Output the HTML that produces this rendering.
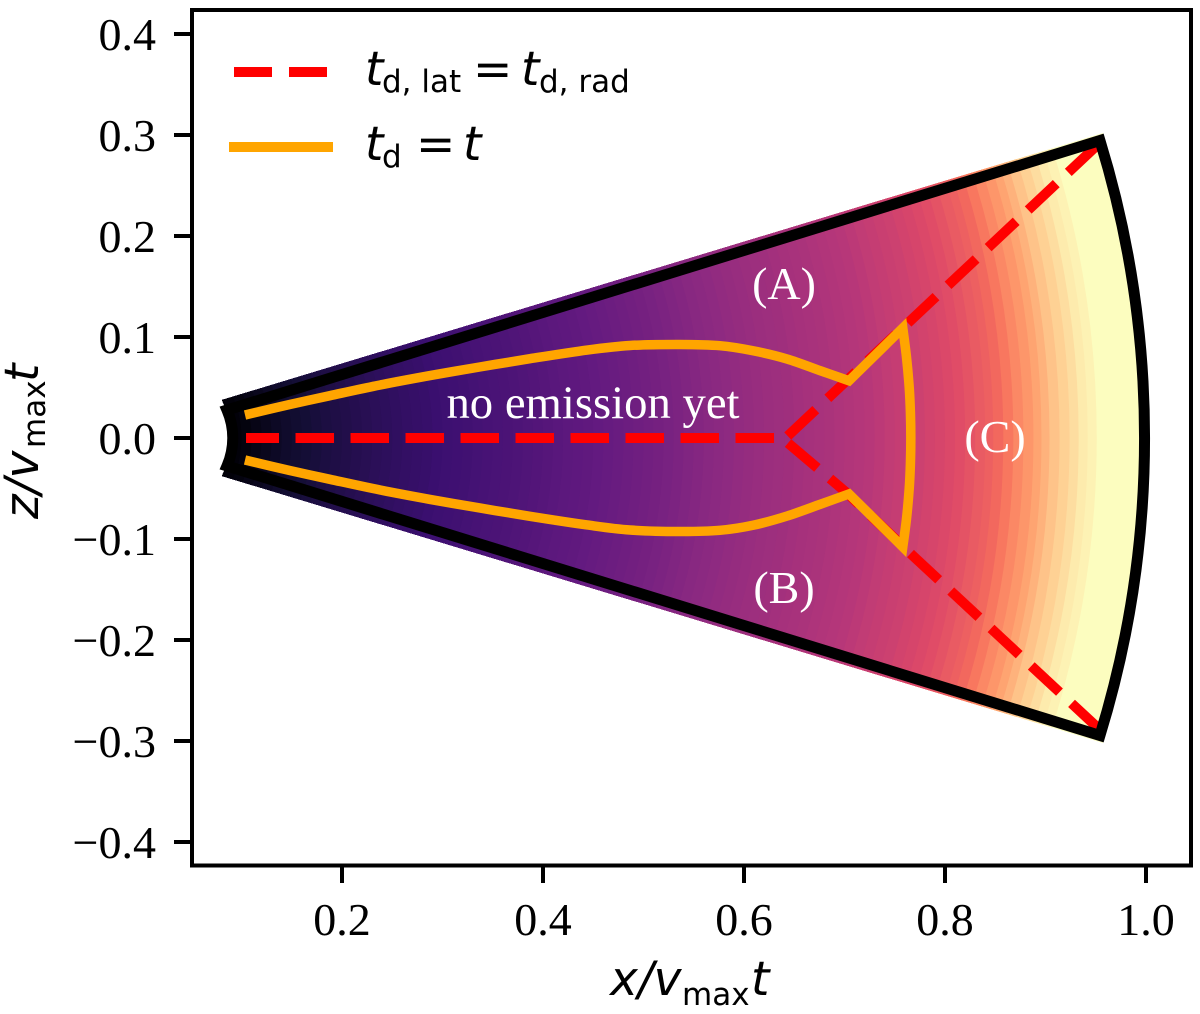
<!DOCTYPE html>
<html lang="en">
<head>
<meta charset="utf-8">
<title>Ejecta emission regions</title>
<style>
  html, body { margin: 0; padding: 0; background: #fff; width: 1200px; height: 1014px; overflow: hidden; }
  svg { display: block; overflow: hidden; }
  .tick-label { font-family: "Liberation Serif", serif; font-size: 46px; fill: #000; }
  .region-label { font-family: "Liberation Serif", serif; font-size: 46px; fill: #fff; text-anchor: middle; }
  .math { font-family: "DejaVu Sans", sans-serif; font-size: 47px; fill: #000; font-style: italic; }
  .math .sub { font-size: 31px; font-style: normal; }
  .math .eq { font-style: normal; }
</style>
</head>
<body>
<svg id="chart" width="1200" height="1014" viewBox="0 0 1200 1014" xmlns="http://www.w3.org/2000/svg">
  <defs><clipPath id="wedge-clip"><path id="wedge-clip-path"></path></clipPath></defs>
  <g id="bands" clip-path="url(#wedge-clip)"></g>
  <g id="red-lines"></g>
  <path id="wedge-outline" fill="none" stroke="#000" stroke-width="11" stroke-linejoin="miter" stroke-miterlimit="10"></path>
  <g id="orange-lines"></g>

  <text class="region-label" style="font-size:46.7px" x="593" y="418">no emission yet</text>
  <text class="region-label" x="784" y="299">(A)</text>
  <text class="region-label" x="784" y="603">(B)</text>
  <text class="region-label" x="995" y="452">(C)</text>

  <g id="x-ticks"></g>
  <g id="y-ticks"></g>
  <rect x="192" y="10" width="999" height="855.5" fill="none" stroke="#000" stroke-width="4"></rect>

  <g>
    <line x1="234" y1="72" x2="272" y2="72" stroke="#f00" stroke-width="10"></line>
    <line x1="289" y1="72" x2="327" y2="72" stroke="#f00" stroke-width="10"></line>
    <line x1="229" y1="147" x2="333" y2="147" stroke="#ffa500" stroke-width="10"></line>
    <text class="math" y="85"><tspan x="365">t</tspan><tspan class="sub" x="382" y="92">d, lat</tspan><tspan class="eq" x="473" y="85">=</tspan><tspan x="521" y="85">t</tspan><tspan class="sub" x="539" y="92">d, rad</tspan></text>
    <text class="math" y="160"><tspan x="365">t</tspan><tspan class="sub" x="382" y="167">d</tspan><tspan class="eq" x="416" y="160">=</tspan><tspan x="463" y="160">t</tspan></text>
  </g>

  <text class="math" y="995"><tspan x="610">x/v</tspan><tspan class="sub" x="682" y="1005">max</tspan><tspan x="751" y="995">t</tspan></text>
  <text class="math" transform="translate(38,518) rotate(-90)"><tspan x="-1" y="0">z/v</tspan><tspan class="sub" x="70" y="7">max</tspan><tspan x="136" y="0">t</tspan></text>
</svg>

<script>
// Axis ticks
const xTicks = [0.2, 0.4, 0.6, 0.8, 1.0];
const xTickLabels = ['0.2', '0.4', '0.6', '0.8', '1.0'];
const yTicks = [0.4, 0.3, 0.2, 0.1, 0.0, -0.1, -0.2, -0.3, -0.4];
const yTickLabels = ['0.4', '0.3', '0.2', '0.1', '0.0', '\u22120.1', '\u22120.2', '\u22120.3', '\u22120.4'];

// Contour bands: outer radius of each band and its colormap value
const bandRadius = [0.09, 0.10, 0.11, 0.12, 0.13, 0.14, 0.15, 0.16, 0.17, 0.18, 0.19, 0.20, 0.21, 0.22, 0.23, 0.24, 0.25, 0.26, 0.27, 0.28, 0.29, 0.30, 0.31, 0.32, 0.33, 0.34, 0.35, 0.36, 0.37, 0.38, 0.39, 0.40, 0.41, 0.42, 0.43, 0.44, 0.45, 0.46, 0.47, 0.48, 0.49, 0.50, 0.51, 0.52, 0.53, 0.54, 0.55, 0.56, 0.57, 0.58, 0.59, 0.60, 0.61, 0.62, 0.63, 0.64, 0.65, 0.66, 0.67, 0.68, 0.69, 0.70, 0.71, 0.72, 0.73, 0.74, 0.75, 0.76, 0.77, 0.78, 0.79, 0.80, 0.81, 0.82, 0.83, 0.84, 0.848, 0.858, 0.868, 0.878, 0.888, 0.896, 0.904, 0.914, 0.924, 0.933, 0.942, 0.951, 1.01];
const bandValue = [0.0, 0.01, 0.02, 0.035, 0.05, 0.065, 0.08, 0.09, 0.10, 0.11, 0.12, 0.128, 0.135, 0.143, 0.15, 0.158, 0.165, 0.173, 0.18, 0.185, 0.19, 0.198, 0.205, 0.21, 0.215, 0.223, 0.23, 0.235, 0.24, 0.245, 0.25, 0.258, 0.265, 0.273, 0.28, 0.285, 0.29, 0.298, 0.305, 0.313, 0.32, 0.328, 0.335, 0.343, 0.35, 0.36, 0.37, 0.38, 0.39, 0.398, 0.405, 0.413, 0.42, 0.428, 0.435, 0.44, 0.445, 0.453, 0.46, 0.465, 0.47, 0.478, 0.485, 0.493, 0.50, 0.513, 0.525, 0.535, 0.545, 0.555, 0.568, 0.58, 0.593, 0.608, 0.625, 0.645, 0.66, 0.68, 0.715, 0.75, 0.78, 0.81, 0.84, 0.875, 0.905, 0.93, 0.96, 0.975, 1.0];

// Wedge geometry
const fillCornerX = [0.0806, 0.9572];
const fillCornerZ = [0.0376, 0.302];
const fillRadius = [0.0895, 1.005];
const outlineCornerX = [0.0856, 0.9542];
const outlineCornerZ = [0.0277, 0.2945];
const outlineRadius = [0.07, 1.0];

// Red dashed curve t_d,lat = t_d,rad
const redStemX = [0.1045, 0.644];
const redStemZ = [0.0, 0.0];
const redUpperX = [0.6435, 0.9527];
const redUpperZ = [0.002, 0.2911];
const redLowerX = [0.6438, 0.7025, 0.7672, 0.9522];
const redLowerZ = [-0.005, -0.0545, -0.1158, -0.2871];

// Orange curve t_d = t
const curveX = [0.1035, 0.148, 0.188, 0.238, 0.2876, 0.337, 0.387, 0.444, 0.4866, 0.536, 0.576, 0.609, 0.643, 0.676, 0.7045];
const curveZUpper = [0.0228, 0.0332, 0.0419, 0.0525, 0.0618, 0.0703, 0.0785, 0.0871, 0.0916, 0.0926, 0.0914, 0.0864, 0.0782, 0.0666, 0.0567];
const curveZLower = [-0.0218, -0.0322, -0.0409, -0.0515, -0.0608, -0.0693, -0.0775, -0.0861, -0.0911, -0.0926, -0.0914, -0.0864, -0.0772, -0.0656, -0.0554];
const capX = [0.758, 0.7617, 0.7644, 0.7656, 0.766, 0.7656, 0.7644, 0.7617, 0.758];
const capZ = [0.1089, 0.08, 0.05, 0.025, 0.0, -0.025, -0.05, -0.08, -0.1079];

// Colormap stops
const magmaStops = ['#000004', '#140e36', '#3b0f70', '#641a80', '#8c2981', '#b73779', '#de4968', '#f7705c', '#fe9f6d', '#fecf92', '#fcfdbf'];

const SVG_NS = 'http://www.w3.org/2000/svg';
const sx = v => 342 + (v - 0.2) * 1005;
const sy = v => 438 - v * 1010;
const rx = r => sx(r) - sx(0);
const ry = r => sy(0) - sy(r);

function hexToRgb(h) {
  return [parseInt(h.slice(1, 3), 16), parseInt(h.slice(3, 5), 16), parseInt(h.slice(5, 7), 16)];
}
function magma(t) {
  const p = Math.min(Math.max(t, 0), 1) * (magmaStops.length - 1);
  const i = Math.min(Math.floor(p), magmaStops.length - 2);
  const f = p - i;
  const a = hexToRgb(magmaStops[i]);
  const b = hexToRgb(magmaStops[i + 1]);
  const c = a.map((v, k) => Math.round(v + (b[k] - v) * f));
  return 'rgb(' + c.join(',') + ')';
}
function make(tag, attrs, parent) {
  const el = document.createElementNS(SVG_NS, tag);
  Object.keys(attrs).forEach(k => el.setAttribute(k, attrs[k]));
  parent.appendChild(el);
  return el;
}
function wedgePath(cx, cz, radii) {
  const x0 = sx(cx[0]), x1 = sx(cx[1]);
  const zu0 = sy(cz[0]), zu1 = sy(cz[1]), zl0 = sy(-cz[0]), zl1 = sy(-cz[1]);
  const r0x = rx(radii[0]), r0y = ry(radii[0]), r1x = rx(radii[1]), r1y = ry(radii[1]);
  return 'M' + x0 + ' ' + zu0 + ' L' + x1 + ' ' + zu1 +
    ' A' + r1x + ' ' + r1y + ' 0 0 1 ' + x1 + ' ' + zl1 +
    ' L' + x0 + ' ' + zl0 +
    ' A' + r0x + ' ' + r0y + ' 0 0 0 ' + x0 + ' ' + zu0 + ' Z';
}
// Pie sector of the given data radius, wide enough to cover the wedge at that radius
function sectorPath(r) {
  const half = (r < 0.5 ? 28 : 20) * Math.PI / 180;
  const ex = sx(r * Math.cos(half));
  const up = sy(r * Math.sin(half));
  const down = sy(-r * Math.sin(half));
  return 'M' + sx(0) + ' ' + sy(0) + ' L' + ex + ' ' + up +
    ' A' + rx(r) + ' ' + ry(r) + ' 0 0 1 ' + ex + ' ' + down + ' Z';
}
function polyPath(xs, zs) {
  return xs.map((x, i) => (i ? 'L' : 'M') + sx(x) + ' ' + sy(zs[i])).join(' ');
}
// Smooth (Catmull-Rom) path through points; continues an open path when cmd is 'L'
function smoothPath(xs, zs, cmd) {
  const px = xs.map(sx);
  const py = zs.map(sy);
  let d = cmd + px[0] + ' ' + py[0];
  for (let i = 0; i < px.length - 1; i++) {
    const a = Math.max(i - 1, 0);
    const b = Math.min(i + 2, px.length - 1);
    const c1x = px[i] + (px[i + 1] - px[a]) / 6;
    const c1y = py[i] + (py[i + 1] - py[a]) / 6;
    const c2x = px[i + 1] - (px[b] - px[i]) / 6;
    const c2y = py[i + 1] - (py[b] - py[i]) / 6;
    d += ' C' + c1x + ' ' + c1y + ' ' + c2x + ' ' + c2y + ' ' + px[i + 1] + ' ' + py[i + 1];
  }
  return d;
}

document.getElementById('wedge-clip-path').setAttribute('d', wedgePath(fillCornerX, fillCornerZ, fillRadius));
document.getElementById('wedge-outline').setAttribute('d', wedgePath(outlineCornerX, outlineCornerZ, outlineRadius));

// Bands, painted from the largest radius inward
const bandGroup = document.getElementById('bands');
for (let i = bandRadius.length - 1; i >= 0; i--) {
  const band = make('path', { d: sectorPath(bandRadius[i]), fill: magma(bandValue[i]) }, bandGroup);
  
  
}

// Red dashed curves
const redGroup = document.getElementById('red-lines');
const redStem = make('path', {
  d: polyPath(redStemX, redStemZ), fill: 'none', stroke: '#f00', 'stroke-width': 10,
  'stroke-dasharray': '38.5 16.5', 'stroke-dashoffset': 5.5
}, redGroup);


const redUpper = make('path', {
  d: polyPath(redUpperX, redUpperZ), fill: 'none', stroke: '#f00', 'stroke-width': 10,
  'stroke-dasharray': '38.5 16.5'
}, redGroup);


const redLower = make('path', {
  d: polyPath(redLowerX, redLowerZ), fill: 'none', stroke: '#f00', 'stroke-width': 10,
  'stroke-dasharray': '38.5 16.5'
}, redGroup);



// Orange curve: upper branch, cap arc, lower branch
const orangeGroup = document.getElementById('orange-lines');
const orangeD = smoothPath(curveX, curveZUpper, 'M') + ' ' +
  smoothPath(capX, capZ, 'L') + ' ' +
  smoothPath(curveX.slice().reverse(), curveZLower.slice().reverse(), 'L');
const orangeLine = make('path', {
  d: orangeD, fill: 'none', stroke: '#ffa500', 'stroke-width': 9.5,
  'stroke-linejoin': 'miter', 'stroke-miterlimit': 4
}, orangeGroup);



// Ticks
const xTickGroup = document.getElementById('x-ticks');
xTicks.forEach((v, i) => {
  const mark = make('line', { x1: sx(v), x2: sx(v), y1: 865, y2: 883, stroke: '#000', 'stroke-width': 4 }, xTickGroup);
  
  
  const label = make('text', { class: 'tick-label', x: sx(v), y: 935, 'text-anchor': 'middle' }, xTickGroup);
  label.textContent = xTickLabels[i];
  
  
});
const yTickGroup = document.getElementById('y-ticks');
yTicks.forEach((v, i) => {
  const mark = make('line', { x1: 174, x2: 192, y1: sy(v), y2: sy(v), stroke: '#000', 'stroke-width': 4 }, yTickGroup);
  
  
  const label = make('text', { class: 'tick-label', x: 156, y: sy(v) + 16, 'text-anchor': 'end' }, yTickGroup);
  label.textContent = yTickLabels[i];
  
  
});
</script>
</body>
</html>
